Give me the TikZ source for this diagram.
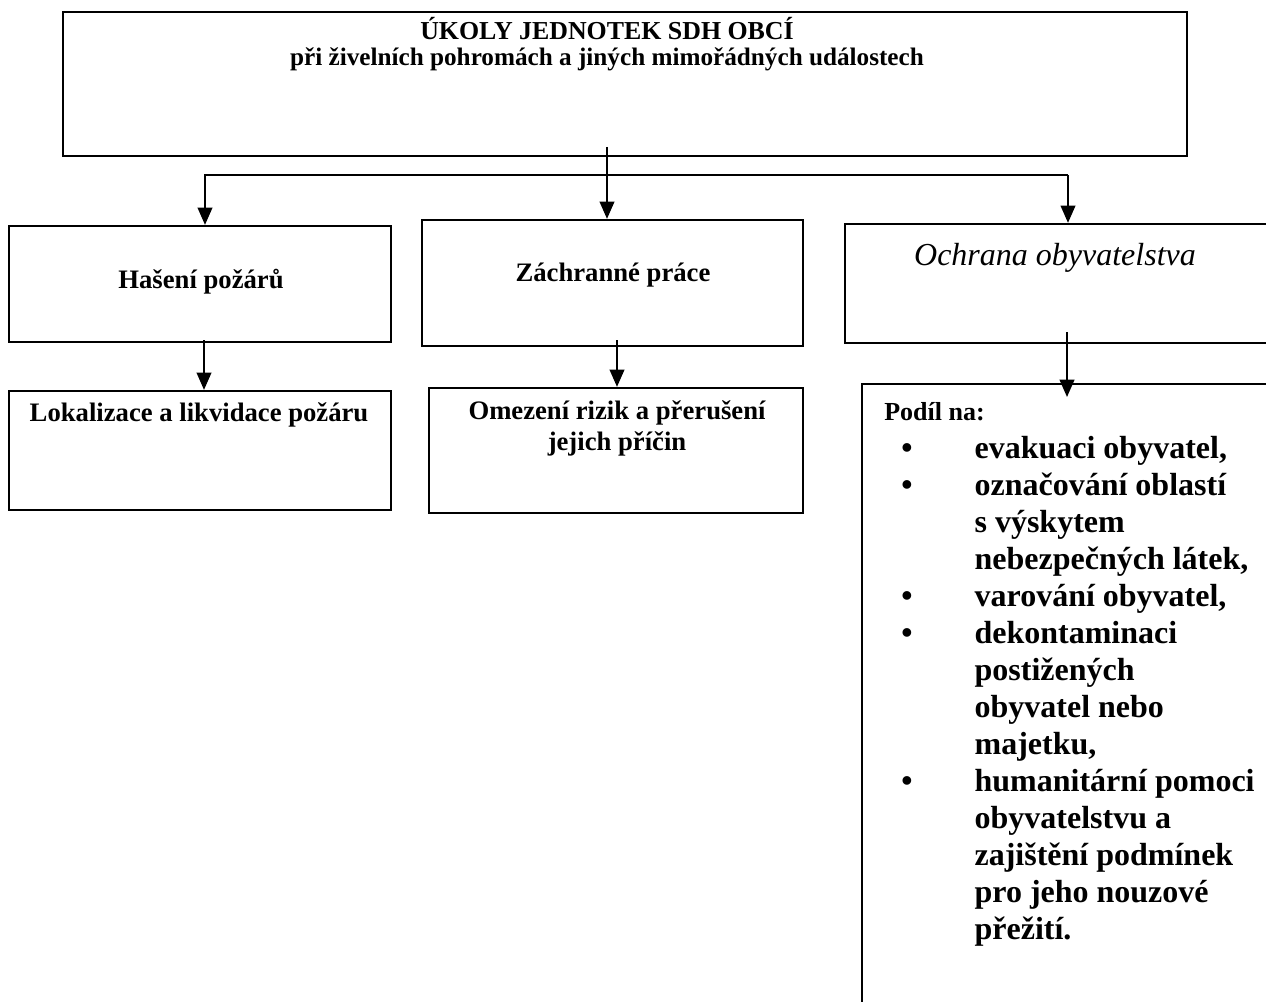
\documentclass[tikz,border=0pt]{standalone}
\usepackage{fontspec}
\setmainfont{Liberation Serif}
\usetikzlibrary{arrows.meta,fit}
\begin{document}
\begin{tikzpicture}[x=0.75pt,y=-0.75pt,
  box/.style={draw,line width=1.7pt,inner sep=0pt},
  conn/.style={line width=1.5pt},
  arr/.style={conn,-{Triangle[width=11pt,length=13pt]}},
  lbl/.style={font=\bfseries\fontsize{20pt}{23pt}\selectfont,anchor=base,inner sep=0pt},
  ttl/.style={font=\bfseries\fontsize{19.4pt}{22pt}\selectfont,anchor=base,inner sep=0pt},
  sub/.style={font=\bfseries\fontsize{18.9pt}{22pt}\selectfont,anchor=base,inner sep=0pt},
  itl/.style={font=\itshape\fontsize{24pt}{28pt}\selectfont,anchor=base,inner sep=0pt},
  lst/.style={font=\bfseries\fontsize{24pt}{27.75pt}\selectfont,anchor=base west,inner sep=0pt}]
\useasboundingbox (0,0) rectangle (1266,1002);
\clip (0,0) rectangle (1266,1002);
% boxes
\node[box,fit={(63,12) (1187,156)}] (top) {};
\node[box,fit={(9,226) (391,342)}] (b1) {};
\node[box,fit={(422,220) (803,346)}] (b2) {};
\node[box,fit={(845,224) (1300,343)}] (b3) {};
\node[box,fit={(9,391) (391,510)}] (b4) {};
\node[box,fit={(429,388) (803,513)}] (b5) {};
\node[box,fit={(862,384) (1300,1060)}] (b6) {};
% texts
\node[ttl] (t1) at (607,40) {ÚKOLY JEDNOTEK SDH OBCÍ};
\node[sub] (t2) at (607,66) {při živelních pohromách a jiných mimořádných událostech};
\node[lbl] (l1) at (201,288) {Hašení požárů};
\node[lbl] (l2) at (613,281) {Záchranné práce};
\node[itl] (l3) at (1055,265) {Ochrana obyvatelstva};
\node[lbl] (l4) at (199,421) {Lokalizace a likvidace požáru};
\node[lbl] (l5a) at (617,419) {Omezení rizik a přerušení};
\node[lbl] (l5b) at (617,450) {jejich příčin};
\node[lbl,anchor=base west,font=\bfseries\fontsize{19.5pt}{23pt}\selectfont] (pod) at (884,420) {Podíl na:};
\node[lst] (list) at (901,458) {\begin{tabular}[t]{@{}p{55pt}@{}l@{}}
• & evakuaci obyvatel,\\
• & označování oblastí\\
  & s výskytem\\
  & nebezpečných látek,\\
• & varování obyvatel,\\
• & dekontaminaci\\
  & postižených\\
  & obyvatel nebo\\
  & majetku,\\
• & humanitární pomoci\\
  & obyvatelstvu a\\
  & zajištění podmínek\\
  & pro jeho nouzové\\
  & přežití.
\end{tabular}};
% connectors
\coordinate (j) at (607,147);
\coordinate (busL) at (205,175);
\coordinate (busR) at (1068,175);
\draw[arr] (j) -- (j |- b2.north);
\draw[arr] (busR) -- (busL) -- (busL |- b1.north);
\draw[arr] (busR) -- (busR |- b3.north);
\coordinate (a1) at (204,340);
\draw[arr] (a1) -- (a1 |- b4.north);
\coordinate (a2) at (617,340);
\draw[arr] (a2) -- (a2 |- b5.north);
\coordinate (a3) at (1067,332);
\coordinate (a3e) at (1067,397);
\draw[arr] (a3) -- (a3e);
\end{tikzpicture}
\end{document}
